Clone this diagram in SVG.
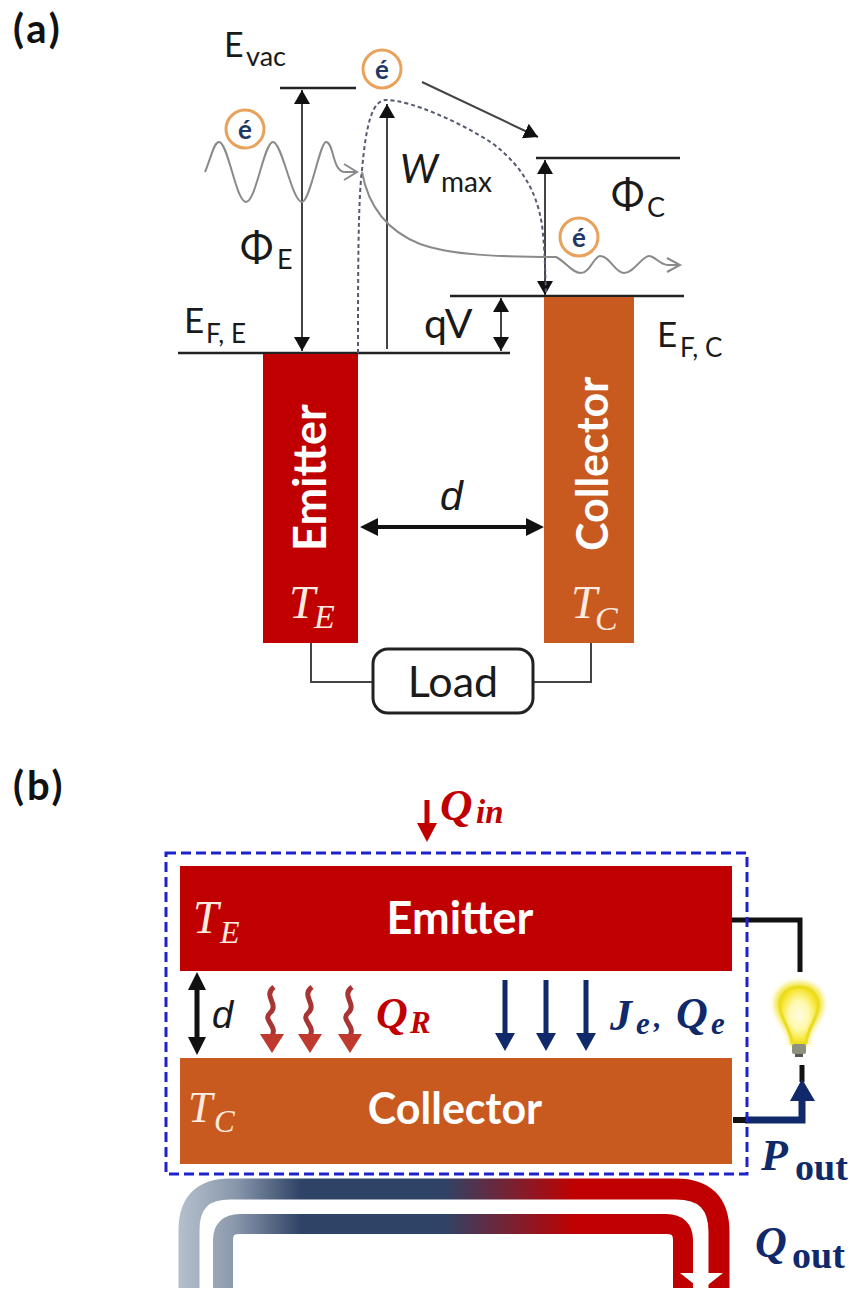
<svg xmlns="http://www.w3.org/2000/svg" width="855" height="1291" viewBox="0 0 855 1291">
<style>
.l{font-family:"Lato","Open Sans",sans-serif;fill:#1a1a1a}
.b{font-family:"Lato","Open Sans",sans-serif;font-weight:700;fill:#fff}
.h{font-family:"Lato","Open Sans",sans-serif;font-weight:700;fill:#111;letter-spacing:3px}
.s{font-family:"Liberation Sans",sans-serif;font-style:italic;fill:#1a1a1a}
.m{font-family:"Liberation Serif",serif;font-style:italic;fill:#fbeadf}
.q{font-family:"Liberation Serif",serif;font-style:italic;font-weight:700}
.u{font-family:"Liberation Serif",serif;font-weight:700;fill:#10296a}
.e{font-family:"Lato",sans-serif;font-weight:700;font-size:26px;fill:#1f3864;text-anchor:middle}
.line{fill:none;stroke:#222;stroke-width:2.5}
.thin{fill:none;stroke:#444;stroke-width:2}
.wave{fill:none;stroke:#8a8a8a;stroke-width:2}
.dash{fill:none;stroke:#555a70;stroke-width:2;stroke-dasharray:4 3}
.eb{fill:#fff;stroke:#e8a25c;stroke-width:3}
.red{fill:#c00000}.navy{fill:#10296a}.or{fill:#c8591f}
</style>
<defs>
<marker id="ah" markerWidth="8" markerHeight="8" refX="7" refY="4" orient="auto-start-reverse" markerUnits="strokeWidth"><path d="M0 0L7 4L0 8Z" fill="#111"/></marker>
<linearGradient id="g1" gradientUnits="userSpaceOnUse" x1="180" y1="0" x2="730" y2="0"><stop offset="0" stop-color="#b4bfcc"/><stop offset=".1" stop-color="#8a98ac"/><stop offset=".22" stop-color="#2f4366"/><stop offset=".48" stop-color="#2f4366"/><stop offset=".72" stop-color="#c00000"/><stop offset="1" stop-color="#c00000"/></linearGradient>
<radialGradient id="gl"><stop offset="0" stop-color="#fffbe0"/><stop offset=".5" stop-color="#fff9b0"/><stop offset="1" stop-color="#f5e21e"/></radialGradient>
<filter id="bl" x="-30%" y="-30%" width="160%" height="160%"><feGaussianBlur stdDeviation="2.5"/></filter>
</defs>

<text id="label-a" class="h" x="13" y="43" font-size="40">(a)</text>
<text id="label-b" class="h" x="13" y="800" font-size="40">(b)</text>

<g id="connectors">
<path class="line" d="M280 88H356M178 353H510M536 158H680M450 296H684"/>
<path class="thin" d="M302 90V351" marker-start="url(#ah)" marker-end="url(#ah)"/>
<path class="thin" d="M387 349V104" marker-end="url(#ah)"/>
<path class="thin" d="M545 160V295" marker-start="url(#ah)" marker-end="url(#ah)"/>
<path class="thin" d="M501 298V351" marker-start="url(#ah)" marker-end="url(#ah)"/>
<path class="thin" d="M422 82L538 137" marker-end="url(#ah)"/>
<path class="dash" d="M358 353C358 280 358 200 362 170C366 125 372 100 386 100C410 100 460 122 492 143C528 170 538 200 542 225C545 250 545 270 546 292"/>
<path class="wave" d="M205 172C212 155 214 142 219 142C228 142 236 202 246 202C256 202 264 142 273 142C282 142 292 202 302 202C310 202 320 142 326 142C334 142 332 172 345 172H357M344 164L357 172L344 180"/>
<path class="wave" d="M362 172C368 205 385 230 420 244C450 255 500 257 556 257C566 262 572 273 581 273C590 273 594 256 600 256C610 256 615 273 624 273C634 273 642 256 649 256C655 256 660 265 668 265H680M667 258L680 265L667 272"/>
<path class="thin" stroke-width="2.500" d="M311 643V682H373M533 682H591V643"/>
<path d="M374 527H530" fill="none" stroke="#111" stroke-width="4"/>
<path d="M360 527L378 518V536ZM544 527L526 518V536Z" fill="#111"/>
<path d="M427 800V826" fill="none" stroke="#c00000" stroke-width="5"/>
<path d="M427 842L417 823H437Z" class="red"/>
<path d="M197 985V1042" fill="none" stroke="#111" stroke-width="5"/>
<path d="M197 972L188 990H206ZM197 1055L188 1037H206Z" fill="#111"/>
<path d="M274 987C262 996 280 1004 270 1013C262 1020 278 1026 272 1036M312 987C300 996 318 1004 308 1013C300 1020 316 1026 310 1036M352 987C340 996 358 1004 348 1013C340 1020 356 1026 350 1036" fill="none" stroke="#a93434" stroke-width="5"/>
<path d="M272 1053L260 1034H284ZM310 1053L298 1034H322ZM350 1053L338 1034H362Z" fill="#c0392f"/>
<path d="M505 980V1036M546 980V1036M586 980V1036" fill="none" stroke="#10296a" stroke-width="5"/>
<path d="M505 1051L495 1033H515ZM546 1051L536 1033H556ZM586 1051L576 1033H596Z" class="navy"/>
<path d="M732 920H800V972" fill="none" stroke="#111" stroke-width="5"/>
<path d="M802 1065V1082" fill="none" stroke="#111" stroke-width="5"/>
<path d="M745 1120H802V1098" fill="none" stroke="#10296a" stroke-width="7"/>
<path d="M733 1120H747" fill="none" stroke="#111" stroke-width="6"/>
<path d="M802 1079L815 1101H790Z" class="navy"/>
<path d="M189 1288V1230Q189 1189 230 1189H676Q719 1189 719 1232V1288" fill="none" stroke="url(#g1)" stroke-width="21"/>
<path d="M223 1288V1240Q223 1224 240 1224H666Q683 1224 683 1240V1288" fill="none" stroke="url(#g1)" stroke-width="20"/>
<path d="M680 1273H723L704 1288H699Z" fill="#fff"/>
</g>

<g id="emitter-a"><rect class="red" x="263" y="354" width="95" height="289"/>
<text class="b" font-size="45" transform="translate(326 551) rotate(-90)">Emitter</text>
<text class="m" x="289" y="618" font-size="47">T</text><text class="m" x="314" y="628" font-size="34">E</text></g>
<g id="collector-a"><rect class="or" x="544" y="297" width="90" height="346"/>
<text class="b" font-size="43" transform="translate(608 551) rotate(-90)">Collector</text>
<text class="m" x="571" y="618" font-size="47">T</text><text class="m" x="595" y="630" font-size="34">C</text></g>
<g id="load"><rect x="373" y="649" width="160" height="64" rx="15" fill="#fff" stroke="#222" stroke-width="3"/>
<text class="l" x="453" y="697" font-size="43" text-anchor="middle">Load</text></g>

<g id="labels-a">
<text class="l" x="224" y="57" font-size="34">E</text><text class="l" x="246" y="66" font-size="27">vac</text>
<text class="l" x="240" y="262" font-size="40">Φ</text><text class="l" x="277" y="269" font-size="27">E</text>
<text class="l" x="400" y="183" font-size="40" font-style="italic">W</text><text class="l" x="441" y="192" font-size="28">max</text>
<text class="l" x="611" y="209" font-size="40">Φ</text><text class="l" x="647" y="217" font-size="27">C</text>
<text class="l" x="424" y="338" font-size="41">qV</text>
<text class="l" x="184" y="333" font-size="35">E</text><text class="l" x="206" y="343" font-size="26">F, E</text>
<text class="l" x="657" y="347" font-size="35">E</text><text class="l" x="680" y="357" font-size="26">F, C</text>
<text class="s" x="440" y="510" font-size="41">d</text>
</g>
<g id="electron-1"><circle class="eb" cx="245" cy="129" r="19"/><text class="e" x="245" y="139">é</text></g>
<g id="electron-2"><circle class="eb" cx="382" cy="69" r="19"/><text class="e" x="382" y="79">é</text></g>
<g id="electron-3"><circle class="eb" cx="579" cy="237" r="19"/><text class="e" x="579" y="247">é</text></g>

<g id="emitter-b"><rect class="red" x="180" y="866" width="552" height="105"/>
<text class="b" x="460" y="934" font-size="45" text-anchor="middle">Emitter</text>
<text class="m" x="193" y="933" font-size="46">T</text><text class="m" x="220" y="943" font-size="32">E</text></g>
<g id="collector-b"><rect class="or" x="180" y="1058" width="552" height="106"/>
<text class="b" x="455" y="1124" font-size="43" text-anchor="middle">Collector</text>
<text class="m" x="188" y="1122" font-size="44">T</text><text class="m" x="214" y="1132" font-size="31">C</text></g>
<g id="boundary"><rect x="166" y="853" width="581" height="321" fill="none" stroke="#1c22cc" stroke-width="3" stroke-dasharray="10 5"/></g>
<g id="bulb">
<path d="M799 982C780 982 772 996 775 1009C778 1022 789 1030 790 1045H808C809 1030 820 1022 823 1009C826 996 818 982 799 982Z" fill="#f4e64a" filter="url(#bl)"/>
<path d="M799 987C785 987 778 998 780 1009C782 1020 791 1030 792 1043H806C807 1030 816 1020 818 1009C820 998 813 987 799 987Z" fill="url(#gl)" stroke="#eadc20" stroke-width="3"/>
<rect x="792" y="1044" width="14" height="10" rx="2" fill="#8f8f7d"/><rect x="795" y="1054" width="8" height="3" fill="#555"/>
</g>
<g id="labels-b">
<text class="q" x="440" y="820" font-size="45" fill="#c00000">Q</text><text class="q" x="476" y="823" font-size="33" fill="#c00000">in</text>
<text class="s" x="212" y="1028" font-size="38">d</text>
<text class="q" x="376" y="1028" font-size="44" fill="#c00000">Q</text><text class="q" x="410" y="1033" font-size="31" fill="#c00000">R</text>
<text class="q" x="610" y="1030" font-size="44" fill="#10296a">J</text><text class="q" x="636" y="1034" font-size="31" fill="#10296a">e</text><text class="q" x="654" y="1027" font-size="30" fill="#10296a">,</text>
<text class="q" x="676" y="1028" font-size="44" fill="#10296a">Q</text><text class="q" x="711" y="1034" font-size="31" fill="#10296a">e</text>
<text class="q" x="761" y="1170" font-size="44" fill="#10296a">P</text><text class="u" x="795" y="1180" font-size="38">out</text>
<text class="q" x="755" y="1257" font-size="44" fill="#10296a">Q</text><text class="u" x="792" y="1268" font-size="38">out</text>
</g>
</svg>
